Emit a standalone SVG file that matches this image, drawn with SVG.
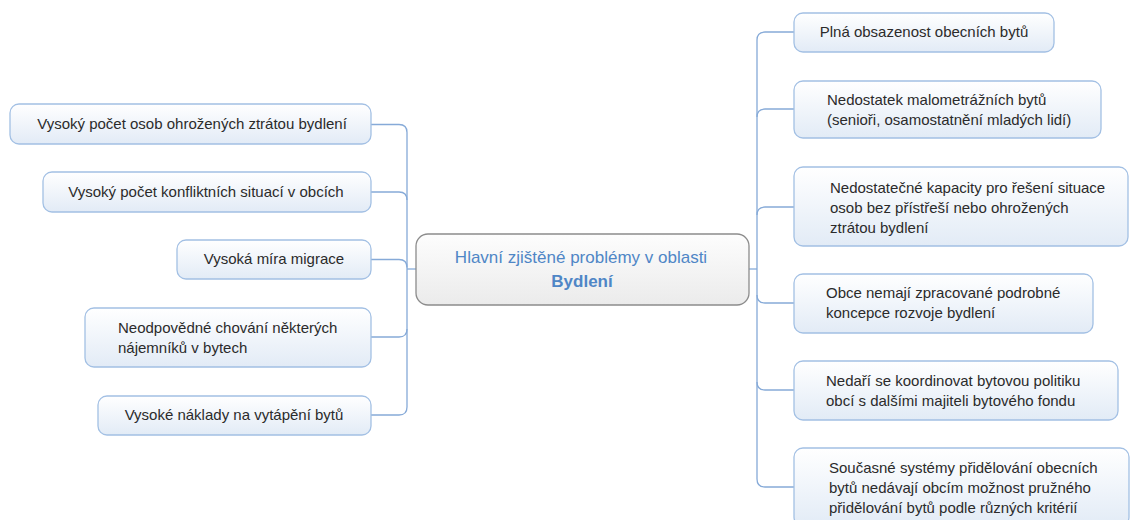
<svg xmlns="http://www.w3.org/2000/svg" width="1130" height="520" viewBox="0 0 1130 520">
<style>
.node rect{fill:url(#gNode);stroke:#a3c0e4;stroke-width:1.3}
.node text{font-family:"Liberation Sans",Arial,sans-serif;font-size:15px;fill:#2b2b2b}
.c{text-anchor:middle}
#center rect{fill:url(#gCenter);stroke:#8c8c8c;stroke-width:1.3}
#center text{font-family:"Liberation Sans",Arial,sans-serif;font-size:17px;fill:#4f86c6;text-anchor:middle}
#connectors path{fill:none;stroke:#86aad8;stroke-width:1.3}
</style>
<defs>
<linearGradient id="gNode" x1="0" y1="0" x2="0" y2="1">
<stop offset="0" stop-color="#ffffff"/>
<stop offset="1" stop-color="#e2ebf6"/>
</linearGradient>
<linearGradient id="gCenter" x1="0" y1="0" x2="0" y2="1">
<stop offset="0" stop-color="#fdfdfd"/>
<stop offset="1" stop-color="#ebebeb"/>
</linearGradient>
</defs>
<rect width="1130" height="520" fill="#ffffff"/>
<g id="connectors">
<path d="M371,124.5 H399 Q407,124.5 407,132.5 V407 Q407,415 399,415 H371"/>
<path d="M371,192 H399 Q407,192 407,200"/>
<path d="M371,259.5 H399 Q407,259.5 407,267.5"/>
<path d="M371,337 H399 Q407,337 407,329"/>
<path d="M407,269 H416"/>
<path d="M749,269 H757"/>
<path d="M794,32 H765 Q757,32 757,40 V479 Q757,487 765,487 H794"/>
<path d="M794,109 H765 Q757,109 757,117"/>
<path d="M794,207 H765 Q757,207 757,215"/>
<path d="M794,303 H765 Q757,303 757,295"/>
<path d="M794,390 H765 Q757,390 757,382"/>
</g>
<g id="center">
<rect x="416" y="234" width="333" height="71" rx="12"/>
<text x="581" y="263">Hlavní zjištěné problémy v oblasti</text>
<text x="582" y="287" font-weight="bold" font-size="16px">Bydlení</text>
</g>
<g id="l1" class="node">
<rect x="10" y="104" width="361" height="40" rx="9"/>
<text class="c" x="192" y="129">Vysoký počet osob ohrožených ztrátou bydlení</text>
</g>
<g id="l2" class="node">
<rect x="43" y="172" width="328" height="40" rx="9"/>
<text class="c" x="206" y="197">Vysoký počet konfliktních situací v obcích</text>
</g>
<g id="l3" class="node">
<rect x="177" y="240" width="194" height="39" rx="9"/>
<text class="c" x="274" y="264">Vysoká míra migrace</text>
</g>
<g id="l4" class="node">
<rect x="85" y="308" width="286" height="59" rx="9"/>
<text x="118" y="333">Neodpovědné chování některých</text>
<text x="118" y="353">nájemníků v bytech</text>
</g>
<g id="l5" class="node">
<rect x="98" y="396" width="273" height="39" rx="9"/>
<text class="c" x="234" y="420">Vysoké náklady na vytápění bytů</text>
</g>
<g id="r1" class="node">
<rect x="794" y="13" width="260" height="39" rx="9"/>
<text class="c" x="924" y="37">Plná obsazenost obecních bytů</text>
</g>
<g id="r2" class="node">
<rect x="794" y="81" width="307" height="57" rx="9"/>
<text x="827" y="105">Nedostatek malometrážních bytů</text>
<text x="827" y="125">(senioři, osamostatnění mladých lidí)</text>
</g>
<g id="r3" class="node">
<rect x="794" y="167" width="334" height="79" rx="9"/>
<text x="830" y="193">Nedostatečné kapacity pro řešení situace</text>
<text x="830" y="213">osob bez přístřeší nebo ohrožených</text>
<text x="830" y="233">ztrátou bydlení</text>
</g>
<g id="r4" class="node">
<rect x="794" y="274" width="299" height="59" rx="9"/>
<text x="826" y="298">Obce nemají zpracované podrobné</text>
<text x="826" y="318">koncepce rozvoje bydlení</text>
</g>
<g id="r5" class="node">
<rect x="794" y="361" width="324" height="59" rx="9"/>
<text x="826" y="386">Nedaří se koordinovat bytovou politiku</text>
<text x="826" y="406">obcí s dalšími majiteli bytového fondu</text>
</g>
<g id="r6" class="node">
<rect x="794" y="448" width="335" height="78" rx="9"/>
<text x="829" y="473">Současné systémy přidělování obecních</text>
<text x="829" y="493">bytů nedávají obcím možnost pružného</text>
<text x="829" y="513">přidělování bytů podle různých kritérií</text>
</g>
</svg>
